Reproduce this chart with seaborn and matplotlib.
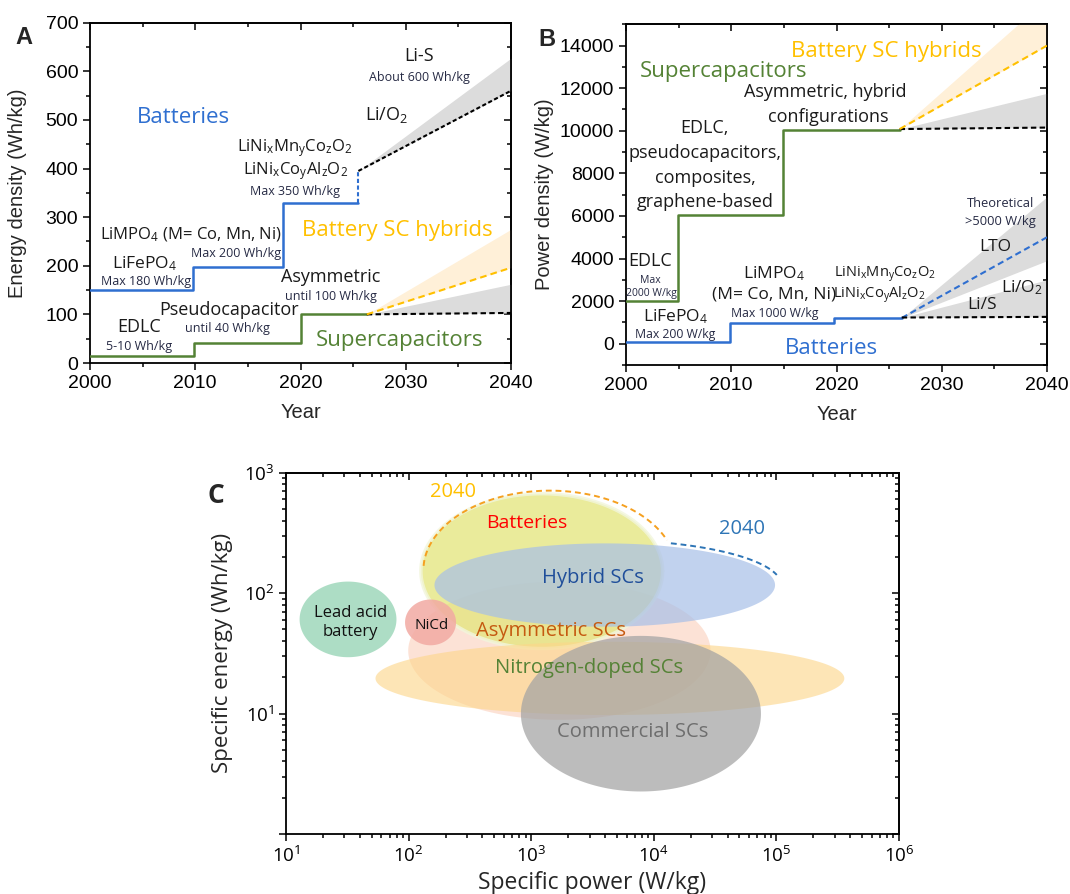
import numpy as np
import matplotlib
matplotlib.use("Agg")
import matplotlib.pyplot as plt
import seaborn as sns
from matplotlib.ticker import MultipleLocator, LogLocator, NullFormatter, FuncFormatter

# ---------------- Panel A: energy density vs year ----------------
a_batt_year = [2000, 2009.8, 2018.3, 2025.5]
a_batt_energy = [150, 198, 330, 330]
a_sc_year = [2000, 2009.9, 2020.0, 2026.3]
a_sc_energy = [14, 41, 100, 100]
a_jump_year = [2025.5, 2025.5]
a_jump_energy = [330, 395]
a_batt_proj_year = [2025.5, 2040]
a_batt_proj = [395, 560]
a_batt_proj_upper = [395, 627]
a_sc_proj_year = [2026.3, 2040]
a_sc_flat = [100, 103]
a_sc_upper = [100, 162]
a_hyb_proj = [100, 196]
a_hyb_upper = [100, 275]

# ---------------- Panel B: power density vs year ----------------
b_batt_year = [2000, 2009.9, 2019.8, 2026.2]
b_batt_power = [100, 950, 1210, 1210]
b_sc_year = [2000, 2004.9, 2014.9, 2026.0]
b_sc_power = [2000, 6050, 10050, 10050]
b_batt_proj_year = [2026.2, 2040]
b_lto = [1210, 5000]
b_lto_upper = [1210, 6900]
b_lto_lower = [1210, 3900]
b_batt_flat = [1230, 1260]
b_lis_upper = [1230, 3000]
b_sc_proj_year = [2026.0, 2040]
b_sc_flat = [10080, 10150]
b_sc_upper = [10080, 11760]
b_hyb_proj = [10080, 14000]
b_hyb_upper = [10080, 16200]

# ---------------- Panel C: Ragone regions (log10 centre / half-extent) ----------------
c_names = ["Asymmetric SCs", "Batteries", "Hybrid SCs", "Nitrogen-doped SCs",
           "Commercial SCs", "NiCd", "Lead acid battery"]
c_log_power_center = [3.23, 3.086, 3.60, 3.642, 3.895, 2.179, 1.506]
c_log_power_half = [1.233, 0.986, 1.389, 1.912, 0.979, 0.208, 0.395]
c_log_energy_center = [1.522, 2.183, 2.067, 1.292, 0.999, 1.757, 1.782]
c_log_energy_half = [0.574, 0.643, 0.346, 0.304, 0.646, 0.19, 0.314]
c_fill_colors = ["#fbd3c0", "#e3e57a", "#a7bfe8", "#fdd68a", "#a3a3a3", "#f2aaa3", "#a9dcc2"]
c_alphas = [0.65, 0.75, 0.7, 0.62, 0.72, 0.85, 0.95]
# 2040 projected envelopes (ellipse arcs in log space)
c_arc_batt = dict(cx=3.152, cy=2.192, hw=1.031, hh=0.659, theta=(177, 22))
c_arc_hyb = dict(cx=3.60, cy=2.067, hw=1.44, hh=0.374, theta=(68, 13))

BLUE = "#2f6fd0"
GREEN = "#548235"
ORANGE = "#ffc000"
GRAY_FILL = "#dcdcdc"
ORANGE_FILL = "#fff0d8"
DARK = "#1a1a1a"
SMALL = "#262a44"

sns.set_theme(style="ticks")
plt.rcParams["font.family"] = ["Liberation Sans", "DejaVu Sans"]
plt.rcParams["mathtext.default"] = "regular"
ANN = ["Open Sans", "DejaVu Sans"]

fig = plt.figure(figsize=(10.7, 8.94), dpi=100)
axA = fig.add_axes([90 / 1070, 1 - 363 / 894, 421 / 1070, 340.3 / 894])
axB = fig.add_axes([626 / 1070, 1 - 365 / 894, 421 / 1070, 340.7 / 894])
axC = fig.add_axes([286 / 1070, 1 - 834 / 894, 613 / 1070, 361.3 / 894])


def frame(ax, xmaj, xmin, ymaj, ymin, log=False):
    for s in ax.spines.values():
        s.set_linewidth(1.3)
        s.set_color("black")
    ax.tick_params(which="both", direction="out", top=False, right=False,
                   color="black", width=1.1, labelsize=14, labelcolor="black")
    ax.tick_params(which="major", length=5)
    ax.tick_params(which="minor", length=3)
    if not log:
        ax.xaxis.set_major_locator(MultipleLocator(xmaj))
        ax.xaxis.set_minor_locator(MultipleLocator(xmin))
        ax.yaxis.set_major_locator(MultipleLocator(ymaj))
        ax.yaxis.set_minor_locator(MultipleLocator(ymin))
    top = ax.secondary_xaxis("top")
    right = ax.secondary_yaxis("right")
    for sec, axis, steps in ((top, top.xaxis, (xmaj, xmin)), (right, right.yaxis, (ymaj, ymin))):
        if log:
            axis.set_major_locator(LogLocator(base=10, numticks=12))
            axis.set_minor_locator(LogLocator(base=10, subs=np.arange(2, 10), numticks=12))
        else:
            axis.set_major_locator(MultipleLocator(steps[0]))
            axis.set_minor_locator(MultipleLocator(steps[1]))
        axis.set_major_formatter(NullFormatter())
        axis.set_minor_formatter(NullFormatter())
        sec.tick_params(which="both", direction="in", color="black", width=1.1)
        sec.tick_params(which="major", length=5)
        sec.tick_params(which="minor", length=3)
        for s in sec.spines.values():
            s.set_linewidth(1.3)


def step(ax, x, y, color):
    sns.lineplot(x=x, y=y, drawstyle="steps-post", color=color, lw=1.8, ax=ax,
                 sort=False, estimator=None, zorder=3)


def dash(ax, x, y, color, pattern=(2.2, 1.4), lw=1.5):
    sns.lineplot(x=x, y=y, color=color, lw=lw, ls=(0, pattern), ax=ax,
                 sort=False, estimator=None, zorder=3)


def t(ax, x, y, s, size, color=DARK, **kw):
    ax.text(x, y, s, fontsize=size, color=color, family=ANN, ha="center", va="center", **kw)


# ======================= Panel A =======================
ax = axA
ax.fill_between(a_batt_proj_year, a_batt_proj, a_batt_proj_upper, color=GRAY_FILL, lw=0, zorder=1)
ax.fill_between(a_sc_proj_year, a_hyb_proj, a_hyb_upper, color=ORANGE_FILL, lw=0, zorder=1)
ax.fill_between(a_sc_proj_year, a_sc_flat, a_sc_upper, color=GRAY_FILL, lw=0, zorder=1)
step(ax, a_batt_year, a_batt_energy, BLUE)
step(ax, a_sc_year, a_sc_energy, GREEN)
dash(ax, a_jump_year, a_jump_energy, BLUE, (2.0, 1.2))
dash(ax, a_batt_proj_year, a_batt_proj, "black", (2.0, 1.2))
dash(ax, a_sc_proj_year, a_sc_flat, "black", (2.6, 1.6))
dash(ax, a_sc_proj_year, a_hyb_proj, ORANGE, (3.2, 2.0))
ax.set_xlim(2000, 2040)
ax.set_ylim(0, 700)
frame(ax, 10, 5, 100, 50)
ax.set_xlabel("Year", fontsize=14.5, labelpad=8)
ax.set_ylabel("Energy density (Wh/kg)", fontsize=14.5, labelpad=13)

t(ax, 2008.9, 505, "Batteries", 16, BLUE)
t(ax, 2031.3, 632, "Li-S", 13)
t(ax, 2031.3, 588, "About 600 Wh/kg", 9, SMALL)
t(ax, 2028.2, 510, "Li/O$_2$", 13)
t(ax, 2019.5, 442, "LiNi$_x$Mn$_y$Co$_z$O$_2$", 12)
t(ax, 2019.5, 394, "LiNi$_x$Co$_y$Al$_z$O$_2$", 12)
t(ax, 2019.5, 353, "Max 350 Wh/kg", 9, SMALL)
t(ax, 2009.6, 264, "LiMPO$_4$ (M= Co, Mn, Ni)", 12)
t(ax, 2013.9, 225, "Max 200 Wh/kg", 9, SMALL)
t(ax, 2005.2, 205, "LiFePO$_4$", 12.5)
t(ax, 2005.3, 168, "Max 180 Wh/kg", 9, SMALL)
t(ax, 2029.2, 273, "Battery SC hybrids", 16, ORANGE)
t(ax, 2022.9, 177, "Asymmetric", 13)
t(ax, 2022.9, 136, "until 100 Wh/kg", 9, SMALL)
t(ax, 2013.2, 110, "Pseudocapacitor", 13)
t(ax, 2013.05, 70, "until 40 Wh/kg", 9, SMALL)
t(ax, 2004.7, 75, "EDLC", 13)
t(ax, 2004.7, 34, "5-10 Wh/kg", 9, SMALL)
t(ax, 2029.4, 47, "Supercapacitors", 16, GREEN)

# ======================= Panel B =======================
ax = axB
ax.fill_between(b_batt_proj_year, b_lto_lower, b_lto_upper, color=GRAY_FILL, lw=0, zorder=1)
ax.fill_between(b_batt_proj_year, b_batt_flat, b_lis_upper, color=GRAY_FILL, lw=0, zorder=1)
ax.fill_between(b_sc_proj_year, b_hyb_proj, b_hyb_upper, color=ORANGE_FILL, lw=0, zorder=1)
ax.fill_between(b_sc_proj_year, b_sc_flat, b_sc_upper, color=GRAY_FILL, lw=0, zorder=1)
step(ax, b_batt_year, b_batt_power, BLUE)
step(ax, b_sc_year, b_sc_power, GREEN)
dash(ax, b_batt_proj_year, b_lto, BLUE, (3.0, 1.8))
dash(ax, b_batt_proj_year, b_batt_flat, "black", (2.6, 1.6))
dash(ax, b_sc_proj_year, b_sc_flat, "black", (2.6, 1.6))
dash(ax, b_sc_proj_year, b_hyb_proj, ORANGE, (3.2, 2.0))
ax.set_xlim(2000, 2040)
ax.set_ylim(-1000, 15000)
frame(ax, 10, 5, 2000, 1000)
ax.set_xlabel("Year", fontsize=14.5, labelpad=8)
ax.set_ylabel("Power density (W/kg)", fontsize=14.5, labelpad=4)

t(ax, 2024.7, 13720, "Battery SC hybrids", 16, ORANGE)
t(ax, 2009.3, 12780, "Supercapacitors", 16, GREEN)
t(ax, 2018.9, 11840, "Asymmetric, hybrid", 13)
t(ax, 2019.25, 10660, "configurations", 13)
t(ax, 2007.5, 10110, "EDLC,", 13)
t(ax, 2007.5, 8970, "pseudocapacitors,", 13)
t(ax, 2007.5, 7790, "composites,", 13)
t(ax, 2007.5, 6660, "graphene-based", 13)
t(ax, 2002.3, 3870, "EDLC", 13)
t(ax, 2002.3, 2980, "Max", 7.5, SMALL)
t(ax, 2002.4, 2350, "2000 W/kg", 7.5, SMALL)
t(ax, 2004.7, 1290, "LiFePO$_4$", 12.5)
t(ax, 2004.7, 420, "Max 200 W/kg", 8.8, SMALL)
t(ax, 2014.1, 3290, "LiMPO$_4$", 12.5)
t(ax, 2014.1, 2320, "(M= Co, Mn, Ni)", 12.5)
t(ax, 2014.1, 1410, "Max 1000 W/kg", 8.8, SMALL)
t(ax, 2024.6, 3260, "LiNi$_x$Mn$_y$Co$_z$O$_2$", 10.5)
t(ax, 2024.1, 2320, "LiNi$_x$Co$_y$Al$_z$O$_2$", 10.5)
t(ax, 2035.6, 6600, "Theoretical", 9.3, SMALL)
t(ax, 2035.6, 5750, ">5000 W/kg", 9.3, SMALL)
t(ax, 2035.1, 4520, "LTO", 12.5)
t(ax, 2037.6, 2630, "Li/O$_2$", 12.5)
t(ax, 2033.8, 1800, "Li/S", 12.5)
t(ax, 2019.5, -235, "Batteries", 16, BLUE)

# ======================= Panel C =======================
ax = axC
ax.set_xscale("log")
ax.set_yscale("log")
ax.set_xlim(10, 1e6)
ax.set_ylim(1, 1000)
theta = np.linspace(0, 2 * np.pi, 300)
for i in range(len(c_names)):
    lx = c_log_power_center[i] + c_log_power_half[i] * np.cos(theta)
    ly = c_log_energy_center[i] + c_log_energy_half[i] * np.sin(theta)
    ax.fill(10 ** lx, 10 ** ly, color=c_fill_colors[i], alpha=c_alphas[i], lw=0, zorder=1 + i * 0.1)
    if c_names[i] == "Batteries":
        ax.plot(10 ** lx, 10 ** ly, color="#f2f6dc", lw=2.5, alpha=0.8, zorder=1 + i * 0.1)

for arc, col in ((c_arc_batt, "#f5a020"), (c_arc_hyb, "#2e75b6")):
    th = np.radians(np.linspace(arc["theta"][0], arc["theta"][1], 120))
    arc_x = 10 ** (arc["cx"] + arc["hw"] * np.cos(th))
    arc_y = 10 ** (arc["cy"] + arc["hh"] * np.sin(th))
    sns.lineplot(x=arc_x, y=arc_y, color=col, lw=1.4, ls=(0, (3, 2)), ax=ax,
                 sort=False, estimator=None, zorder=4)

frame(ax, None, None, None, None, log=True)
ax.xaxis.set_major_locator(LogLocator(base=10, numticks=12))
ax.xaxis.set_minor_locator(LogLocator(base=10, subs=np.arange(2, 10), numticks=12))
ax.yaxis.set_major_locator(LogLocator(base=10, numticks=12))
ax.yaxis.set_minor_locator(LogLocator(base=10, subs=np.arange(2, 10), numticks=12))
ax.xaxis.set_minor_formatter(NullFormatter())
ax.yaxis.set_minor_formatter(NullFormatter())
fmt = FuncFormatter(lambda v, p: "" if v < 5 else "$10^{%d}$" % int(round(np.log10(v))))
ax.xaxis.set_major_formatter(fmt)
ax.yaxis.set_major_formatter(fmt)
for lab in ax.get_xticklabels() + ax.get_yticklabels():
    lab.set_family(ANN)
    lab.set_fontsize(13.5)
ax.set_xlabel("Specific power (W/kg)", fontsize=16.5, family=ANN)
ax.set_ylabel("Specific energy (Wh/kg)", fontsize=16, family=ANN, labelpad=8)

t(ax, 10 ** 2.366, 10 ** 2.842, "2040", 14.5, ORANGE)
t(ax, 10 ** 2.965, 10 ** 2.579, "Batteries", 14, "#ff0000")
t(ax, 10 ** 4.716, 10 ** 2.532, "2040", 14.5, "#2e75b6")
t(ax, 10 ** 3.506, 10 ** 2.123, "Hybrid SCs", 14.5, "#1f4e9a")
t(ax, 10 ** 1.525, 10 ** 1.76, "Lead acid\nbattery", 12, "#111111", linespacing=1.25)
t(ax, 10 ** 2.19, 10 ** 1.73, "NiCd", 11, "#111111")
t(ax, 10 ** 3.163, 10 ** 1.688, "Asymmetric SCs", 14.5, "#c55a11")
t(ax, 10 ** 3.475, 10 ** 1.375, "Nitrogen-doped SCs", 14.5, GREEN)
t(ax, 10 ** 3.825, 10 ** 0.849, "Commercial SCs", 14.5, "#6e6e6e")

# panel letters
fig.text(24 / 1070, 1 - 38 / 894, "A", fontsize=17, fontweight="bold", ha="center", va="center")
fig.text(547 / 1070, 1 - 40 / 894, "B", fontsize=17, fontweight="bold", ha="center", va="center")
fig.text(216 / 1070, 1 - 495 / 894, "C", fontsize=19, fontweight="bold", family=ANN,
         ha="center", va="center")

fig.savefig("out.png", dpi=100)
